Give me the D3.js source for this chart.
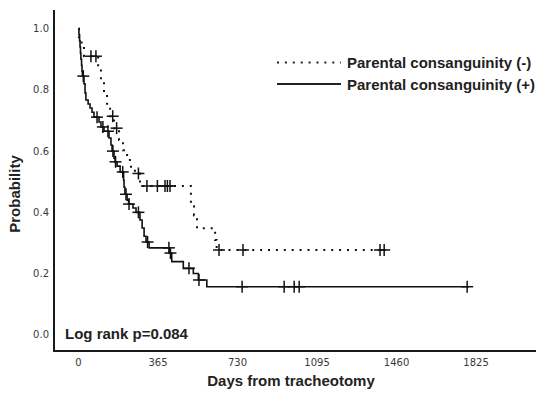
<!DOCTYPE html>
<html>
<head>
<meta charset="utf-8">
<script src="https://cdn.jsdelivr.net/npm/d3@7"></script>
<style>
  body { margin: 0; background: #fff; }
  svg { display: block; }
  .tick-label { font-family: "DejaVu Sans", sans-serif; font-size: 10px; fill: #3a3a3a; }
  .bold { font-family: "Liberation Sans", Arial, sans-serif; font-weight: bold; font-size: 15px; fill: #222; }
</style>
</head>
<body>
<script>
// Kaplan-Meier step data (days, survival probability)
var negTimes = [0, 2, 25, 90, 103, 117, 131, 145, 163, 186, 204, 223, 241, 259, 282, 516, 530, 544, 627, 634];
var negSurv  = [1, 0.955, 0.91, 0.875, 0.832, 0.79, 0.75, 0.714, 0.675, 0.636, 0.603, 0.571, 0.545, 0.527, 0.486, 0.42, 0.39, 0.348, 0.31, 0.277];
var negCensor = [57, 80, 157, 175, 275, 314, 362, 397, 408, 420, 645, 755, 1384, 1403];
var negEnd = 1403;

var posTimes = [0, 2, 5, 7, 9, 11, 14, 16, 18, 25, 30, 34, 44, 53, 62, 71, 94, 103, 117, 140, 149, 154, 163, 168, 177, 191,
                207, 209, 213, 223, 230, 250, 264, 282, 292, 301, 310, 324, 418, 428, 481, 527, 550, 589];
var posSurv  = [1, 0.98, 0.96, 0.94, 0.92, 0.9, 0.88, 0.86, 0.845, 0.82, 0.79, 0.767, 0.754, 0.741, 0.727, 0.711, 0.695, 0.679, 0.665, 0.643, 0.62, 0.6, 0.577, 0.565, 0.551, 0.532,
                0.505, 0.482, 0.459, 0.44, 0.427, 0.414, 0.4, 0.375, 0.349, 0.322, 0.303, 0.284, 0.267, 0.239, 0.217, 0.2, 0.179, 0.157];
var posCensor = [22, 85, 112, 135, 158, 170, 203, 218, 232, 275, 317, 415, 422, 507, 553, 751, 944, 990, 1013, 1784];
var posEnd = 1792;

var xTicks = [0, 365, 730, 1095, 1460, 1825];
var yTicks = [0, 0.2, 0.4, 0.6, 0.8, 1.0];

var legendLabels = ["Parental consanguinity (-)", "Parental consanguinity (+)"];
var pText = "Log rank p=0.084";

var width = 536, height = 393;
var svg = d3.select("body").append("svg")
    .attr("width", width)
    .attr("height", height);

var x = d3.scaleLinear().domain([-112.5, 2100]).range([54, 536]);
var y = d3.scaleLinear().domain([-0.053, 1.061]).range([351, 10]);

// axes lines
svg.append("line").attr("x1", 54).attr("x2", 54).attr("y1", 10).attr("y2", 352)
    .attr("stroke", "#1a1a1a").attr("stroke-width", 2);
svg.append("line").attr("x1", 53).attr("x2", 536).attr("y1", 351).attr("y2", 351)
    .attr("stroke", "#1a1a1a").attr("stroke-width", 2);

svg.selectAll(".ytick").data(yTicks).enter().append("text")
    .attr("class", "tick-label")
    .attr("x", 49)
    .attr("y", d => y(d))
    .attr("dy", "0.35em")
    .attr("text-anchor", "end")
    .text(d => d3.format(".1f")(d));

svg.selectAll(".xtick").data(xTicks).enter().append("text")
    .attr("class", "tick-label")
    .attr("x", d => x(d))
    .attr("y", 366)
    .attr("text-anchor", "middle")
    .text(d => d);

svg.append("text").attr("class", "bold")
    .attr("transform", "translate(20,194) rotate(-90)")
    .attr("text-anchor", "middle")
    .text("Probability");

svg.append("text").attr("class", "bold")
    .attr("x", 291).attr("y", 386)
    .attr("text-anchor", "middle")
    .text("Days from tracheotomy");

svg.append("text").attr("class", "bold")
    .attr("x", 65).attr("y", 338.5)
    .text(pText);

function stepPoints(times, surv, end) {
    var pts = times.map((t, i) => [t, surv[i]]);
    pts.push([end, surv[surv.length - 1]]);
    return pts;
}
function survAt(times, surv, t) {
    var i = d3.bisectRight(times, t) - 1;
    return surv[Math.max(0, i)];
}

var line = d3.line()
    .x(d => x(d[0]))
    .y(d => y(d[1]))
    .curve(d3.curveStepAfter);

var groups = [
    {times: negTimes, surv: negSurv, censor: negCensor, end: negEnd, dash: "2,5.9", w: 2},
    {times: posTimes, surv: posSurv, censor: posCensor, end: posEnd, dash: null, w: 1.6}
];

groups.forEach(function(g) {
    svg.append("path")
        .datum(stepPoints(g.times, g.surv, g.end))
        .attr("fill", "none")
        .attr("stroke", "#111")
        .attr("stroke-width", g.w)
        .attr("stroke-dasharray", g.dash)
        .attr("d", line);

    var marks = svg.append("g").selectAll("g")
        .data(g.censor)
        .enter().append("g")
        .attr("transform", d => "translate(" + x(d) + "," + y(survAt(g.times, g.surv, d)) + ")");
    marks.append("line").attr("x1", -6).attr("x2", 6).attr("y1", 0).attr("y2", 0)
        .attr("stroke", "#111").attr("stroke-width", 1.5);
    marks.append("line").attr("x1", 0).attr("x2", 0).attr("y1", -6).attr("y2", 6)
        .attr("stroke", "#111").attr("stroke-width", 1.5);
});

// legend
var legend = svg.append("g");
legendLabels.forEach(function(lab, i) {
    var ly = i === 0 ? 62.5 : 84;
    legend.append("line")
        .attr("x1", 277).attr("x2", 341)
        .attr("y1", ly).attr("y2", ly)
        .attr("stroke", "#222")
        .attr("stroke-width", i === 0 ? 2 : 1.8)
        .attr("stroke-dasharray", i === 0 ? "2,5.9" : null);
    legend.append("text").attr("class", "bold")
        .attr("x", 347).attr("y", ly + 5.5)
        .text(lab);
});
</script>
</body>
</html>
